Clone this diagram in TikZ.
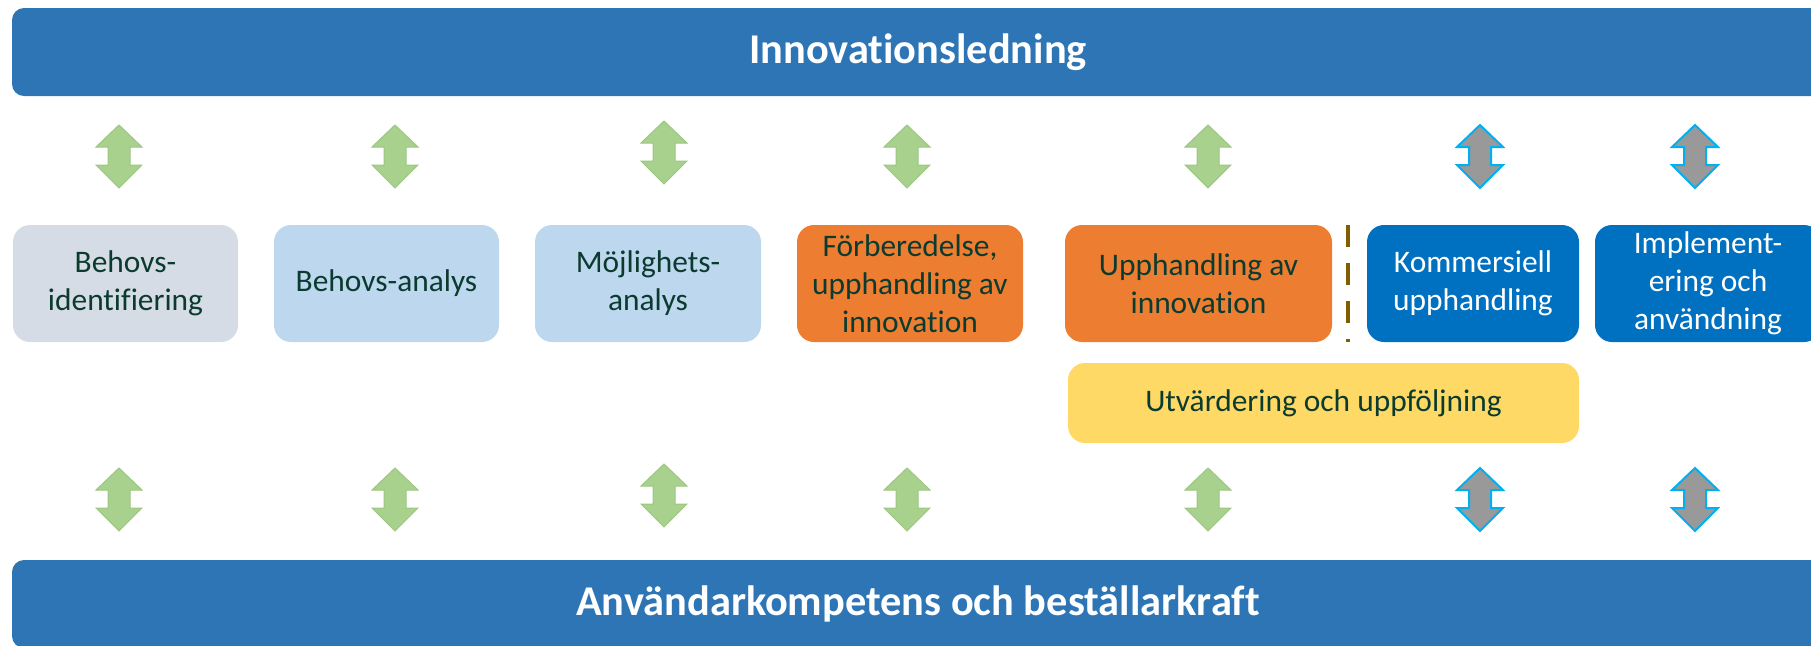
\documentclass[tikz,border=0pt]{standalone}
\usepackage{fontspec}
\setmainfont{Carlito}[Ligatures=NoCommon]
\usetikzlibrary{positioning}

\definecolor{barblue}{HTML}{2E75B6}
\definecolor{needgrey}{HTML}{D6DCE5}
\definecolor{paleblue}{HTML}{BDD7EE}
\definecolor{procorange}{HTML}{ED7D31}
\definecolor{deepblue}{HTML}{0070C0}
\definecolor{evalyellow}{HTML}{FFD966}
\definecolor{darktext}{HTML}{0B3B2F}
\definecolor{arrowgreen}{HTML}{A9D18E}
\definecolor{arrowgreenline}{HTML}{9CC780}
\definecolor{arrowgrey}{HTML}{999999}
\definecolor{arrowcyan}{HTML}{00B0F0}
\definecolor{dashbrown}{HTML}{7F6000}

\begin{document}
\begin{tikzpicture}[x=0.5pt,y=-0.5pt,
	bar/.style={fill=barblue,rounded corners=6pt,minimum width=906pt,minimum height=44pt,
		inner sep=0pt,text=white,font=\fontsize{21.2}{25}\selectfont\bfseries},
	phase/.style={rounded corners=8.5pt,minimum width=113pt,minimum height=58.5pt,
		inner sep=0pt,align=center,text=darktext,font=\fontsize{15.7}{19}\selectfont},
	greenarrow/.style={fill=arrowgreen,draw=arrowgreenline,line width=0.5pt},
	greyarrow/.style={fill=arrowgrey,draw=arrowcyan,line width=1pt}]

\useasboundingbox (0,0) rectangle (1811,645);
\clip (0,0) rectangle (1811,645);

% BARS
\node[bar] (innov) at (918,52) {Innovationsledning};
\node[bar] (user) at (918,604) {Användarkompetens och beställarkraft};

% PHASES
\node[phase,fill=needgrey,minimum width=112.5pt] (needid) at (125.5,283.5) {Behovs-\\identifiering};
\node[phase,fill=paleblue,minimum width=112.5pt] (needan) at (386.5,283.5) {Behovs-analys};
\node[phase,fill=paleblue] (possan) at (648,283.5) {Möjlighets-\\analys};
\node[phase,fill=procorange] (prep) at (910,283.5) {Förberedelse,\\upphandling av\\innovation};
\node[phase,fill=procorange,minimum width=133.5pt] (procinn) at (1198.5,283.5) {Upphandling av\\innovation};
\node[phase,fill=deepblue,text=white,minimum width=106pt] (commproc) at (1473,283.5) {Kommersiell\\upphandling};
\node[phase,fill=deepblue,text=white] (impl) at (1708,283.5) {Implement-\\ering och\\användning};
\node[phase,fill=evalyellow,minimum width=255.5pt,minimum height=40pt] (evalfollow) at (1323.5,403) {Utvärdering och uppföljning};

% DIVIDER
\draw[dashbrown,line width=2.25pt,dash pattern=on 11pt off 8pt] (1348,225) -- (1348,342);

% DOUBLE ARROWS
\foreach \x/\t in {119/125,395/125,664/121,907/125,1208/125,
		119/468,395/468,664/464,907/468,1208/468}
	\draw[greenarrow] (\x,\t) -- (\x+23,\t+22) -- (\x+11,\t+22) -- (\x+11,\t+40)
		-- (\x+23,\t+40) -- (\x,\t+63) -- (\x-23,\t+40) -- (\x-11,\t+40)
		-- (\x-11,\t+22) -- (\x-23,\t+22) -- cycle;
\foreach \x/\t in {1480/125,1695/125,1480/468,1695/468}
	\draw[greyarrow] (\x,\t) -- (\x+23,\t+22) -- (\x+11,\t+22) -- (\x+11,\t+40)
		-- (\x+23,\t+40) -- (\x,\t+63) -- (\x-23,\t+40) -- (\x-11,\t+40)
		-- (\x-11,\t+22) -- (\x-23,\t+22) -- cycle;

\end{tikzpicture}
\end{document}
